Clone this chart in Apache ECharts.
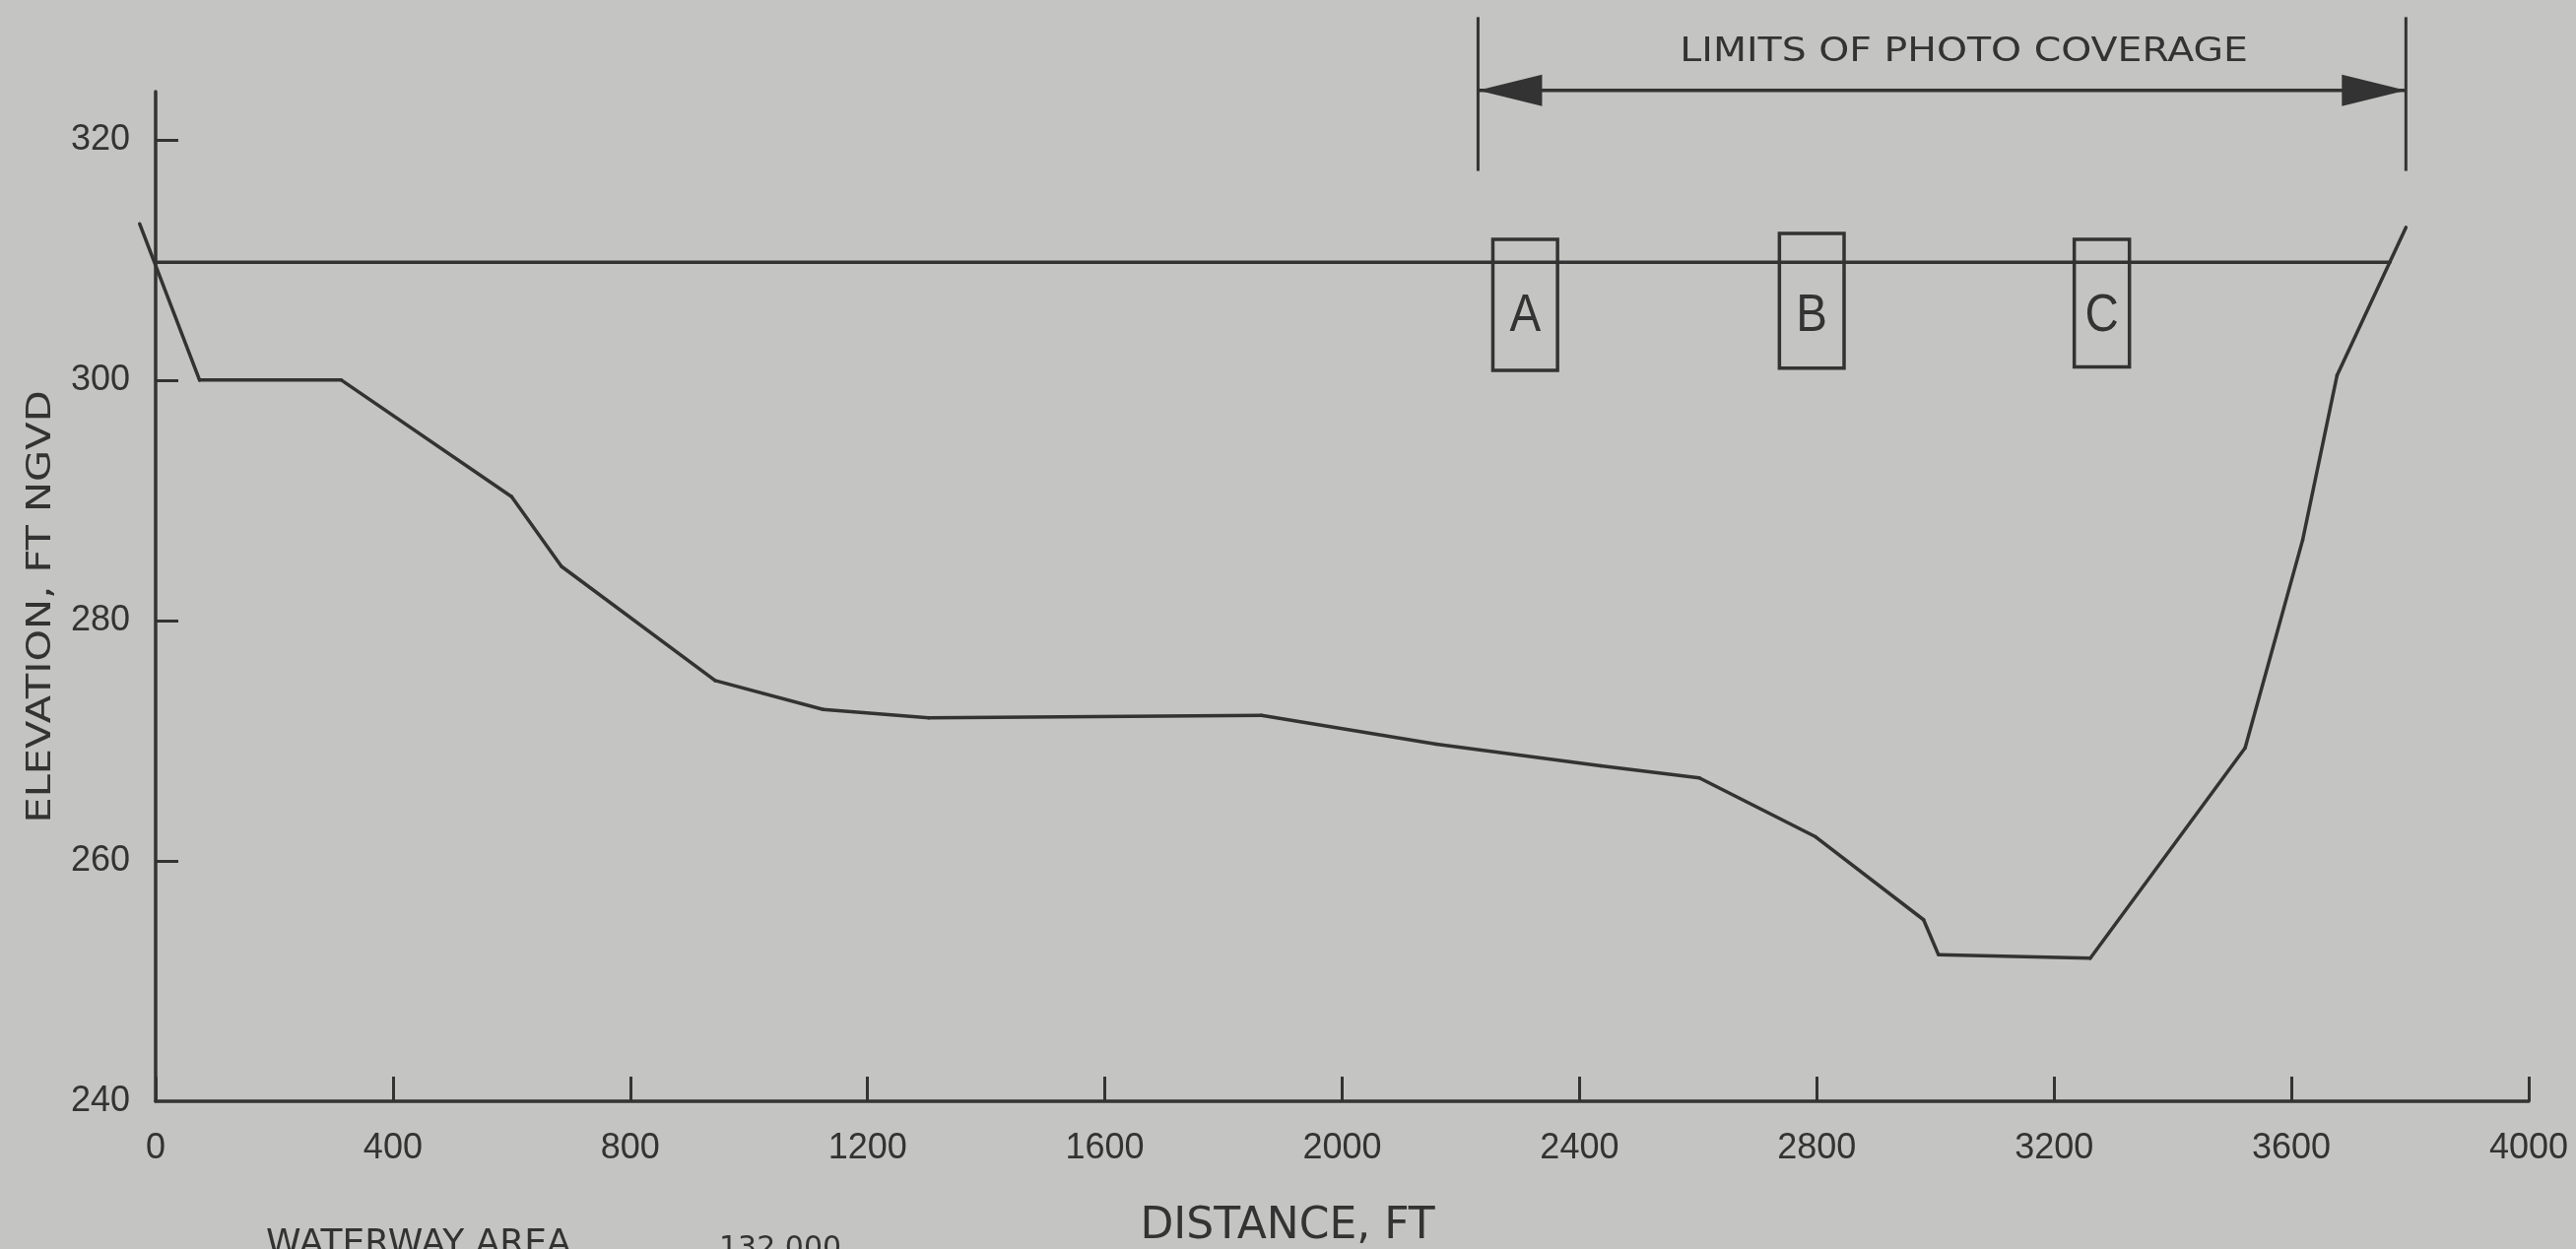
<!DOCTYPE html>
<html><head><meta charset="utf-8">
<script src="https://cdn.jsdelivr.net/npm/echarts@6/dist/echarts.min.js"></script>
<style>html,body{margin:0;padding:0;background:#c4c4c2;}#c{width:2615px;height:1268px;}</style>
</head><body><div id="c"></div>
<script>
// ---- data ----
const profileDistance  = [-27, 74, 313, 600, 684, 943, 1125, 1303, 1864, 2159, 2436, 2602, 2798, 2980, 3005, 3261, 3522, 3619, 3677, 3793];
const profileElevation = [313.0, 300, 300, 290.3, 284.5, 275, 272.6, 271.9, 272.1, 269.7, 267.9, 266.9, 262, 255.1, 252.2, 251.9, 269.4, 286.7, 300.4, 312.7];
const waterDistance  = [0, 3766];
const waterElevation = [309.8, 309.8];
const boxLabels = ['A', 'B', 'C'];
const boxLeft   = [2254, 2737, 3234];
const boxRight  = [2363, 2846, 3327];
const boxBottom = [300.8, 301.0, 301.1];
const boxTop    = [311.7, 312.2, 311.7];
const boxLabelElevation = 305.3;
const photoLimits = [2229, 3793];
const limitTickBottom = 317.4, limitTickTop = 330.2, arrowElevation = 324.1;
const limitsTextPos = [3048, 327.3];
const limitsText = 'LIMITS OF PHOTO COVERAGE';
const xTickValues = [0, 400, 800, 1200, 1600, 2000, 2400, 2800, 3200, 3600, 4000];
const yTickLabels = [240, 260, 280, 300, 320];
const yTickMarks  = [260, 280, 300, 320];
const xTitle = 'DISTANCE, FT';
const yTitle = 'ELEVATION, FT NGVD';
const noteLabel = 'WATERWAY AREA';
const noteValue = '132,000';

// ---- styles ----
const INK = '#333333';
const LW = 3.5;
const NUM_FONT = '"Liberation Sans", Arial, sans-serif';
const WORD_FONT = '"DejaVu Sans", sans-serif';

// profile segments built from the arrays (drawn with a custom series so the
// bank point left of the axis is not clipped)
const profileSegments = [];
for (let i = 0; i < profileDistance.length - 1; i++) {
  profileSegments.push([profileDistance[i], profileElevation[i], profileDistance[i + 1], profileElevation[i + 1]]);
}

const chart = echarts.init(document.getElementById('c'), null, {renderer: 'canvas'});

function segmentItem(params, api) {
  const a = api.coord([api.value(0), api.value(1)]);
  const b = api.coord([api.value(2), api.value(3)]);
  return {type: 'line', shape: {x1: a[0], y1: a[1], x2: b[0], y2: b[1]},
          style: {stroke: INK, lineWidth: LW, lineCap: 'round'}};
}

const option = {
  backgroundColor: '#c4c4c2',
  animation: false,
  grid: {left: 158, right: 48, top: 93, bottom: 150, containLabel: false, outerBoundsMode: 'none'},
  xAxis: {
    type: 'value', min: 0, max: 4000, interval: 400,
    axisLine: {lineStyle: {color: INK, width: LW}},
    axisTick: {inside: true, length: 25, lineStyle: {color: INK, width: 3}, customValues: xTickValues},
    axisLabel: {color: INK, fontSize: 36, fontFamily: NUM_FONT, margin: 30, customValues: xTickValues,
                formatter: v => String(v)},
    splitLine: {show: false}
  },
  yAxis: {
    type: 'value', min: 240, max: 324,
    axisLine: {show: true, lineStyle: {color: INK, width: LW}},
    axisTick: {show: true, inside: true, length: 23, lineStyle: {color: INK, width: 3}, customValues: yTickMarks},
    axisLabel: {color: INK, fontSize: 36, fontFamily: NUM_FONT, margin: 26, customValues: yTickLabels,
                padding: [12, 0, 0, 0], formatter: v => String(v)},
    splitLine: {show: false}
  },
  series: [
    {
      type: 'custom', name: 'profile', clip: false, silent: true,
      encode: {x: [0, 2], y: [1, 3]},
      data: profileSegments,
      renderItem: segmentItem
    },
    {
      type: 'custom', name: 'water', clip: false, silent: true,
      encode: {x: [0, 2], y: [1, 3]},
      data: [[waterDistance[0], waterElevation[0], waterDistance[1], waterElevation[1]]],
      renderItem: segmentItem
    },
    {
      type: 'custom', name: 'boxes', clip: false, silent: true,
      encode: {x: [0, 1], y: [2, 3]},
      data: boxLabels.map((l, i) => [boxLeft[i], boxRight[i], boxBottom[i], boxTop[i], i]),
      renderItem: function (params, api) {
        const i = api.value(4);
        const tl = api.coord([api.value(0), api.value(3)]);
        const br = api.coord([api.value(1), api.value(2)]);
        const c = api.coord([(api.value(0) + api.value(1)) / 2, boxLabelElevation]);
        return {
          type: 'group',
          children: [
            {type: 'rect', shape: {x: tl[0], y: tl[1], width: br[0] - tl[0], height: br[1] - tl[1]},
             style: {fill: 'none', stroke: INK, lineWidth: LW}},
            {type: 'text', x: c[0], y: c[1], scaleX: 0.88,
             style: {text: boxLabels[i], fontSize: 54, fontFamily: NUM_FONT, fill: INK, align: 'center', verticalAlign: 'middle'}}
          ]
        };
      }
    },
    {
      type: 'custom', name: 'limits', clip: false, silent: true,
      encode: {x: [0, 1], y: [2, 3]},
      data: [[photoLimits[0], photoLimits[1], limitTickBottom, limitTickTop]],
      renderItem: function (params, api) {
        const x0 = api.value(0), x1 = api.value(1);
        const l0 = api.coord([x0, api.value(2)]), l1 = api.coord([x0, api.value(3)]);
        const r0 = api.coord([x1, api.value(2)]), r1 = api.coord([x1, api.value(3)]);
        const L = api.coord([x0, arrowElevation]), R = api.coord([x1, arrowElevation]);
        const t = api.coord(limitsTextPos);
        const headLen = 65, headHalf = 16;
        return {
          type: 'group',
          children: [
            {type: 'line', shape: {x1: l0[0], y1: l0[1], x2: l1[0], y2: l1[1]}, style: {stroke: INK, lineWidth: 3}},
            {type: 'line', shape: {x1: r0[0], y1: r0[1], x2: r1[0], y2: r1[1]}, style: {stroke: INK, lineWidth: 3}},
            {type: 'line', shape: {x1: L[0], y1: L[1], x2: R[0], y2: R[1]}, style: {stroke: INK, lineWidth: LW}},
            {type: 'polygon', shape: {points: [[L[0], L[1]], [L[0] + headLen, L[1] - headHalf], [L[0] + headLen, L[1] + headHalf]]}, style: {fill: INK}},
            {type: 'polygon', shape: {points: [[R[0], R[1]], [R[0] - headLen, R[1] - headHalf], [R[0] - headLen, R[1] + headHalf]]}, style: {fill: INK}},
            {type: 'text', x: t[0], y: t[1], scaleX: 1.16,
             style: {text: limitsText, fontSize: 34, fontFamily: WORD_FONT, fill: INK, align: 'center', verticalAlign: 'middle'}}
          ]
        };
      }
    }
  ],
  graphic: [
    {type: 'text', x: 42, y: 616, rotation: Math.PI / 2, scaleX: 1.22, silent: true,
     style: {text: yTitle, fontSize: 34, fontFamily: WORD_FONT, fill: INK, align: 'center', verticalAlign: 'middle'}},
    {type: 'text', x: 1307, y: 1246, silent: true,
     style: {text: xTitle, fontSize: 44, fontFamily: WORD_FONT, fill: INK, align: 'center', verticalAlign: 'middle'}},
    {type: 'text', x: 270, y: 1264, silent: true,
     style: {text: noteLabel, fontSize: 36, fontFamily: WORD_FONT, fill: INK, align: 'left', verticalAlign: 'middle'}},
    {type: 'text', x: 730, y: 1268, silent: true,
     style: {text: noteValue, fontSize: 30, fontFamily: WORD_FONT, fill: INK, align: 'left', verticalAlign: 'middle'}}
  ]
};
chart.setOption(option);
</script>
</body></html>
